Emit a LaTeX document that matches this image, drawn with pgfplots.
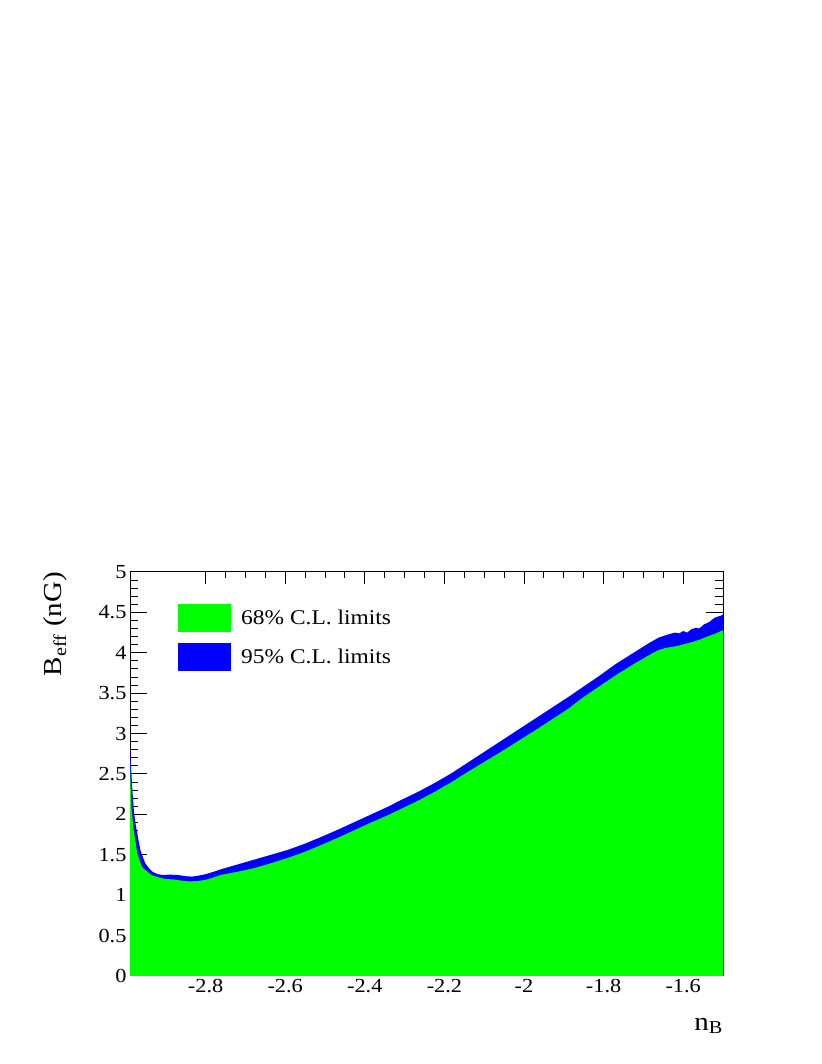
\documentclass[border=0pt]{standalone}
\usepackage{fontspec}
\setmainfont[FakeStretch=1.12]{Liberation Serif}
\usepackage{pgfplots}
\pgfplotsset{compat=1.18}

\begin{document}
\begin{tikzpicture}
\useasboundingbox (0,0) rectangle (822bp,1064bp);
\begin{axis}[
    at={(130bp,88bp)}, anchor=south west,
    scale only axis, width=593bp, height=404bp,
    xmin=-2.99, xmax=-1.5, ymin=0, ymax=5,
    font=\fontsize{20}{24}\selectfont,
    axis line style={line width=1bp},
    xtick={-2.8,-2.6,-2.4,-2.2,-2,-1.8,-1.6},
    xticklabels={-2.8,-2.6,-2.4,-2.2,-2,-1.8,-1.6},
    ytick={0,0.5,1,1.5,2,2.5,3,3.5,4,4.5,5},
    yticklabels={0,0.5,1,1.5,2,2.5,3,3.5,4,4.5,5},
    minor x tick num=3, minor y tick num=4,
    tick align=inside, tick pos=both,
    major tick length=14bp, minor tick length=7bp,
    x tick style={/pgfplots/major tick length=12bp, /pgfplots/minor tick length=6bp},
    y tick style={/pgfplots/major tick length=17bp, /pgfplots/minor tick length=8bp},
    tick style={line width=1bp, black},
    xlabel={n\textsubscript{B}},
    ylabel={B\textsubscript{eff} (nG)},
    xlabel style={at={(axis description cs:1,-0.134)}, anchor=base east, inner sep=0pt,
        font=\fontsize{26}{30}\selectfont},
    ylabel style={at={(axis description cs:-0.1147,1)}, anchor=base east, inner sep=0pt,
        font=\fontsize{26}{30}\selectfont},
    legend style={draw=none, fill=none, at={(axis description cs:0.081,0.921)}, anchor=north west,
        inner sep=0pt, row sep=10.5bp, column sep=8bp, font=\fontsize{21}{25}\selectfont},
    legend cell align=left,
    reverse legend,
]
\addplot[fill=blue, draw=none,
    legend image code/.code={\fill[blue] (0bp,-14bp) rectangle (53bp,14bp);}]
coordinates {
(-2.990,2.85) (-2.987,2.55) (-2.984,2.30) (-2.980,2.03) (-2.976,1.88) (-2.972,1.77)
(-2.964,1.56) (-2.957,1.46) (-2.951,1.39) (-2.942,1.33) (-2.934,1.29) (-2.920,1.26)
(-2.909,1.25) (-2.890,1.255) (-2.870,1.25) (-2.850,1.235) (-2.834,1.23) (-2.815,1.245)
(-2.800,1.26) (-2.780,1.29) (-2.762,1.32) (-2.720,1.38) (-2.678,1.44) (-2.636,1.50)
(-2.594,1.56) (-2.552,1.635) (-2.510,1.72) (-2.468,1.81) (-2.426,1.905) (-2.384,2.00)
(-2.342,2.095) (-2.308,2.18) (-2.266,2.28) (-2.224,2.39) (-2.182,2.51) (-2.140,2.645)
(-2.098,2.78) (-2.056,2.915) (-2.014,3.05) (-1.972,3.185) (-1.930,3.32) (-1.888,3.455)
(-1.854,3.57) (-1.812,3.71) (-1.770,3.86) (-1.728,3.99) (-1.686,4.12) (-1.661,4.19)
(-1.636,4.23) (-1.620,4.25) (-1.610,4.24) (-1.600,4.27) (-1.590,4.25) (-1.580,4.29)
(-1.568,4.31) (-1.560,4.30) (-1.548,4.35) (-1.535,4.38) (-1.525,4.42) (-1.518,4.44)
(-1.505,4.46) (-1.495,4.49) (-1.490,4.49)
} \closedcycle;
\addlegendentry{95\% C.L. limits}
\addplot[fill=green, draw=none,
    legend image code/.code={\fill[green] (0bp,-14bp) rectangle (53bp,14bp);}]
coordinates {
(-2.990,2.65) (-2.988,2.30) (-2.986,2.05) (-2.981,1.81) (-2.976,1.66) (-2.972,1.52)
(-2.966,1.43) (-2.960,1.35) (-2.947,1.29) (-2.934,1.245) (-2.918,1.22) (-2.901,1.20)
(-2.880,1.195) (-2.860,1.18) (-2.840,1.17) (-2.820,1.175) (-2.800,1.19) (-2.780,1.22)
(-2.762,1.25) (-2.720,1.29) (-2.678,1.335) (-2.636,1.395) (-2.594,1.46) (-2.552,1.535)
(-2.510,1.62) (-2.468,1.71) (-2.426,1.805) (-2.384,1.90) (-2.342,1.99) (-2.308,2.07)
(-2.266,2.17) (-2.224,2.28) (-2.182,2.40) (-2.140,2.53) (-2.098,2.655) (-2.056,2.78)
(-2.014,2.91) (-1.972,3.04) (-1.930,3.175) (-1.888,3.31) (-1.854,3.44) (-1.812,3.58)
(-1.770,3.72) (-1.728,3.85) (-1.686,3.97) (-1.664,4.03) (-1.644,4.06) (-1.620,4.08)
(-1.602,4.10) (-1.580,4.13) (-1.560,4.16) (-1.540,4.20) (-1.518,4.24) (-1.495,4.29)
(-1.490,4.30)
} \closedcycle;
\addlegendentry{68\% C.L. limits}
\end{axis}
\end{tikzpicture}
\end{document}
